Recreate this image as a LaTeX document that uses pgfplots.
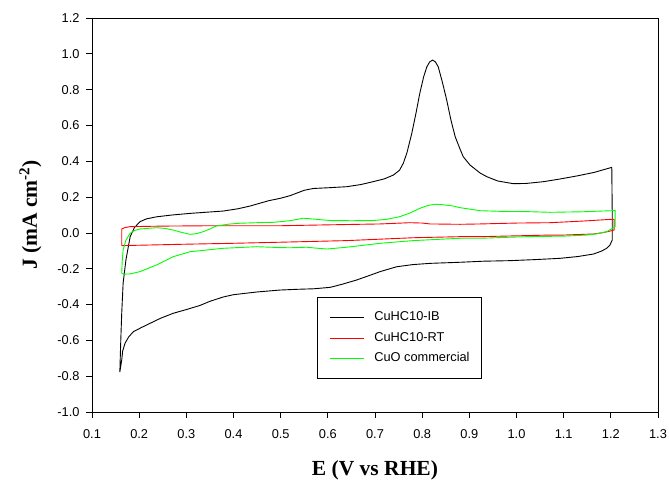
\documentclass[border=0pt]{standalone}
\usepackage{fontspec}
\setmainfont{Liberation Sans}
\newfontfamily\tnr{Liberation Serif}
\usepackage{pgfplots}
\pgfplotsset{compat=1.18}
\definecolor{pgreen}{RGB}{0,255,0}
\definecolor{pred}{RGB}{255,0,0}
\begin{document}
\begin{tikzpicture}
\useasboundingbox (0,0) rectangle (669pt,481pt);
\begin{axis}[
  at={(92pt,69pt)}, anchor=south west,
  width=566pt, height=394pt, scale only axis,
  xmin=0.1, xmax=1.3, ymin=-1.0, ymax=1.2,
  xtick={0.1,0.2,0.3,0.4,0.5,0.6,0.7,0.8,0.9,1.0,1.1,1.2,1.3},
  ytick={-1.0,-0.8,-0.6,-0.4,-0.2,0,0.2,0.4,0.6,0.8,1.0,1.2},
  tick align=outside, xtick pos=bottom, ytick pos=left,
  major tick length=6pt,
  every tick/.style={black, line width=0.8pt},
  axis line style={black, line width=0.8pt},
  tick label style={font=\fontsize{12.8}{14}\selectfont},
  /pgf/number format/.cd, fixed, fixed zerofill, precision=1, assume math mode=true,
  /pgfplots/.cd,
  xticklabel style={yshift=-8pt},
  yticklabel style={xshift=-3pt},
  xlabel={\tnr\bfseries E (V vs RHE)},
  ylabel={\tnr\bfseries J (mA cm\textsuperscript{-2})},
  xlabel style={font=\fontsize{21.5}{24}\selectfont, at={(axis description cs:0.5,-0.1624)}, anchor=base},
  ylabel style={font=\fontsize{21.5}{24}\selectfont, at={(axis description cs:-0.0972,0.5)}, anchor=base},
  legend style={at={(0.3975,0.2919)}, anchor=north west, draw=black, line width=0.8pt,
    font=\fontsize{12.8}{14}\selectfont, inner xsep=12pt, inner ysep=14.5pt,
    nodes={inner sep=0pt, text height=9pt, text depth=2.5pt},
    row sep=9pt, column sep=10pt},
  legend cell align=left,
  legend image code/.code={\draw[#1, line width=0.9pt] (0pt,0pt) -- (34pt,0pt);},
]
\addplot[black, line width=0.9pt] coordinates {
(0.159,-0.777) (0.161,-0.60) (0.163,-0.45) (0.166,-0.28) (0.172,-0.15) (0.181,-0.02)
(0.190,0.03) (0.202,0.063) (0.215,0.078) (0.237,0.090) (0.27,0.100) (0.308,0.109)
(0.34,0.115) (0.378,0.122) (0.41,0.135) (0.435,0.150) (0.455,0.165) (0.475,0.180)
(0.499,0.193) (0.52,0.208) (0.534,0.222) (0.55,0.238) (0.569,0.248) (0.6,0.252)
(0.640,0.258) (0.67,0.270) (0.696,0.286) (0.72,0.302) (0.739,0.323) (0.752,0.350)
(0.760,0.389) (0.768,0.450) (0.778,0.556) (0.787,0.670) (0.795,0.780) (0.803,0.870)
(0.810,0.928) (0.816,0.955) (0.822,0.965) (0.828,0.955) (0.834,0.928) (0.843,0.840)
(0.852,0.742) (0.861,0.630) (0.870,0.537) (0.880,0.470) (0.887,0.426) (0.901,0.380)
(0.923,0.334) (0.937,0.314) (0.96,0.290) (0.993,0.275) (1.02,0.276) (1.057,0.286)
(1.09,0.300) (1.128,0.318) (1.165,0.338) (1.202,0.366) (1.203,0.10) (1.203,-0.040)
(1.198,-0.068) (1.191,-0.086) (1.18,-0.102) (1.163,-0.118) (1.13,-0.132) (1.092,-0.142)
(1.04,-0.149) (0.986,-0.155) (0.93,-0.158) (0.880,-0.164) (0.817,-0.170) (0.78,-0.177)
(0.746,-0.189) (0.711,-0.216) (0.69,-0.236) (0.661,-0.263) (0.63,-0.287) (0.605,-0.304)
(0.57,-0.312) (0.534,-0.315) (0.499,-0.319) (0.449,-0.330) (0.40,-0.345) (0.378,-0.358)
(0.35,-0.382) (0.329,-0.405) (0.30,-0.428) (0.272,-0.449) (0.245,-0.477) (0.223,-0.505)
(0.205,-0.528) (0.188,-0.551) (0.178,-0.58) (0.170,-0.616) (0.165,-0.66) (0.163,-0.71)
(0.159,-0.777)
};
\addlegendentry{CuHC10-IB}
\addplot[pred, line width=0.9pt] coordinates {
(0.163,-0.071) (0.163,0.022) (0.170,0.030) (0.181,0.035) (0.25,0.038) (0.35,0.040)
(0.499,0.040) (0.60,0.045) (0.711,0.050) (0.774,0.057) (0.80,0.055) (0.817,0.050)
(0.88,0.048) (0.923,0.050) (1.00,0.055) (1.071,0.057) (1.14,0.066) (1.202,0.076)
(1.207,0.076) (1.207,0.016) (1.195,0.008) (1.18,0.000) (1.163,-0.006) (1.10,-0.012)
(1.071,-0.012) (0.923,-0.021) (0.880,-0.021) (0.781,-0.027) (0.640,-0.043)
(0.499,-0.052) (0.40,-0.058) (0.30,-0.063) (0.163,-0.071)
};
\addlegendentry{CuHC10-RT}
\addplot[pgreen, line width=0.9pt] coordinates {
(0.163,-0.226) (0.164,-0.16) (0.166,-0.095) (0.172,-0.04) (0.181,-0.002) (0.190,0.013)
(0.202,0.022) (0.237,0.029) (0.255,0.025) (0.272,0.016) (0.29,0.003) (0.308,-0.008)
(0.322,-0.004) (0.336,0.007) (0.350,0.022) (0.364,0.039) (0.39,0.049) (0.414,0.054)
(0.450,0.057) (0.484,0.059) (0.52,0.068) (0.548,0.082) (0.575,0.076) (0.605,0.069)
(0.65,0.068) (0.696,0.069) (0.725,0.076) (0.753,0.091) (0.775,0.112) (0.795,0.137)
(0.812,0.153) (0.827,0.160) (0.845,0.157) (0.866,0.150) (0.880,0.141) (0.923,0.124)
(0.97,0.120) (1.021,0.119) (1.071,0.115) (1.14,0.118) (1.202,0.124) (1.209,0.124)
(1.209,0.035) (1.20,0.020) (1.191,0.007) (1.17,-0.005) (1.149,-0.012) (1.10,-0.018)
(1.021,-0.021) (0.923,-0.030) (0.880,-0.030) (0.781,-0.043) (0.711,-0.058)
(0.640,-0.080) (0.598,-0.090) (0.575,-0.085) (0.555,-0.080) (0.52,-0.083)
(0.499,-0.082) (0.449,-0.077) (0.378,-0.086) (0.308,-0.105) (0.272,-0.133)
(0.237,-0.179) (0.202,-0.216) (0.181,-0.229) (0.170,-0.230) (0.163,-0.226)
};
\addlegendentry{CuO commercial\hspace{21pt}}
\end{axis}
\end{tikzpicture}
\end{document}
